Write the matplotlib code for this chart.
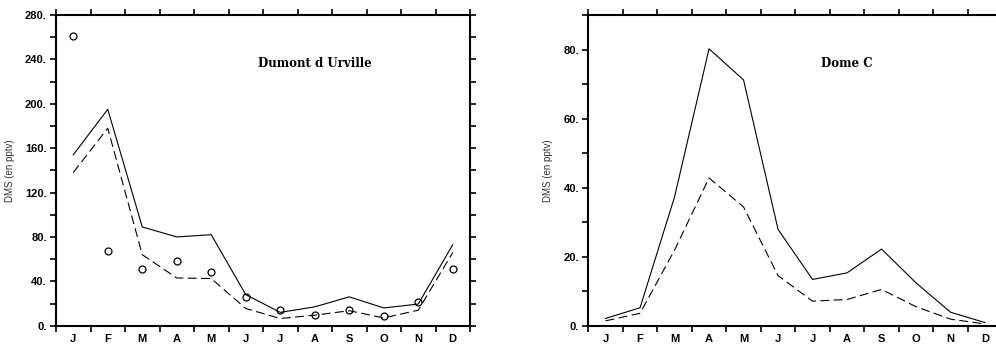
import numpy as np
import matplotlib
matplotlib.use('Agg')
import matplotlib.pyplot as plt
from matplotlib.ticker import MultipleLocator, FuncFormatter

months = ['J', 'F', 'M', 'A', 'M', 'J', 'J', 'A', 'S', 'O', 'N', 'D']

# Dumont d'Urville
ddu_solid = [154, 195, 89, 80, 82, 28, 12, 17, 26, 16, 19.5, 73]
ddu_dash = [138, 178, 64, 43, 42.5, 15.5, 6.5, 9.5, 13.5, 7, 14, 66]
ddu_obs = [261, 67.5, 51, 58.5, 48.5, 25.5, 14, 10, 14, 9, 21.5, 51]

# Dome C
domec_solid = [2.1, 5.2, 37.3, 80.2, 71.2, 27.9, 13.4, 15.3, 22.2, 12.4, 3.9, 0.9]
domec_dash = [1.4, 3.6, 21.9, 42.8, 34.4, 14.5, 7.1, 7.6, 10.5, 5.5, 1.9, 0.5]

x = np.arange(12) + 0.5

fig = plt.figure(figsize=(9.96, 3.46), dpi=100)
ax1 = fig.add_axes([56 / 996, 20.3 / 346, 414 / 996, 310.7 / 346])
ax2 = fig.add_axes([588.3 / 996, 20.3 / 346, 414 / 996, 310.7 / 346])

tickfont = dict(family='Liberation Sans', weight='bold', size=8)


def setup(ax, ymax, major, minor, title, labx):
    ax.set_xlim(0, 12)
    ax.set_ylim(0, ymax)
    for s in ax.spines.values():
        s.set_linewidth(1.5)
    ax.set_xticks(np.arange(13))
    ax.set_xticks(x, minor=True)
    ax.set_xticklabels([])
    ax.set_xticklabels(months, minor=True, **tickfont)
    ax.tick_params(axis='x', which='major', direction='out', length=4.5, width=1.2,
                   top=True, bottom=True)
    ax.tick_params(axis='x', which='minor', length=0, pad=6)
    ax.yaxis.set_major_locator(MultipleLocator(major))
    ax.yaxis.set_minor_locator(MultipleLocator(minor))
    ax.yaxis.set_major_formatter(FuncFormatter(lambda v, p: '%g.' % v))
    ax.tick_params(axis='y', which='both', direction='out', length=4.5, width=1.2,
                   left=True, right=True, pad=2)
    for lab in ax.get_yticklabels():
        lab.set_fontfamily('Liberation Sans')
        lab.set_fontweight('bold')
        lab.set_fontsize(8)
    ax.set_ylabel('DMS (en pptv)', fontsize=7, family='Liberation Sans', color='#333333')
    ax.yaxis.set_label_coords(labx, 0.5)
    ax.text(0.625, 0.845, title, transform=ax.transAxes, ha='center', va='center',
            family='DejaVu Serif', weight='bold', fontsize=8.5)


ax1.plot(x, ddu_solid, color='black', lw=0.8)
ax1.plot(x, ddu_dash, color='black', lw=0.8, dashes=(8, 4))
ax1.plot(x, ddu_obs, linestyle='none', marker='o', ms=5, mfc='none', mec='black', mew=0.9)
setup(ax1, 280, 40, 20, 'Dumont d Urville', -0.099)

ax2.plot(x, domec_solid, color='black', lw=0.8)
ax2.plot(x, domec_dash, color='black', lw=0.8, dashes=(8, 4))
setup(ax2, 90, 20, 10, 'Dome C', -0.0845)

fig.savefig('out.png', dpi=100)
